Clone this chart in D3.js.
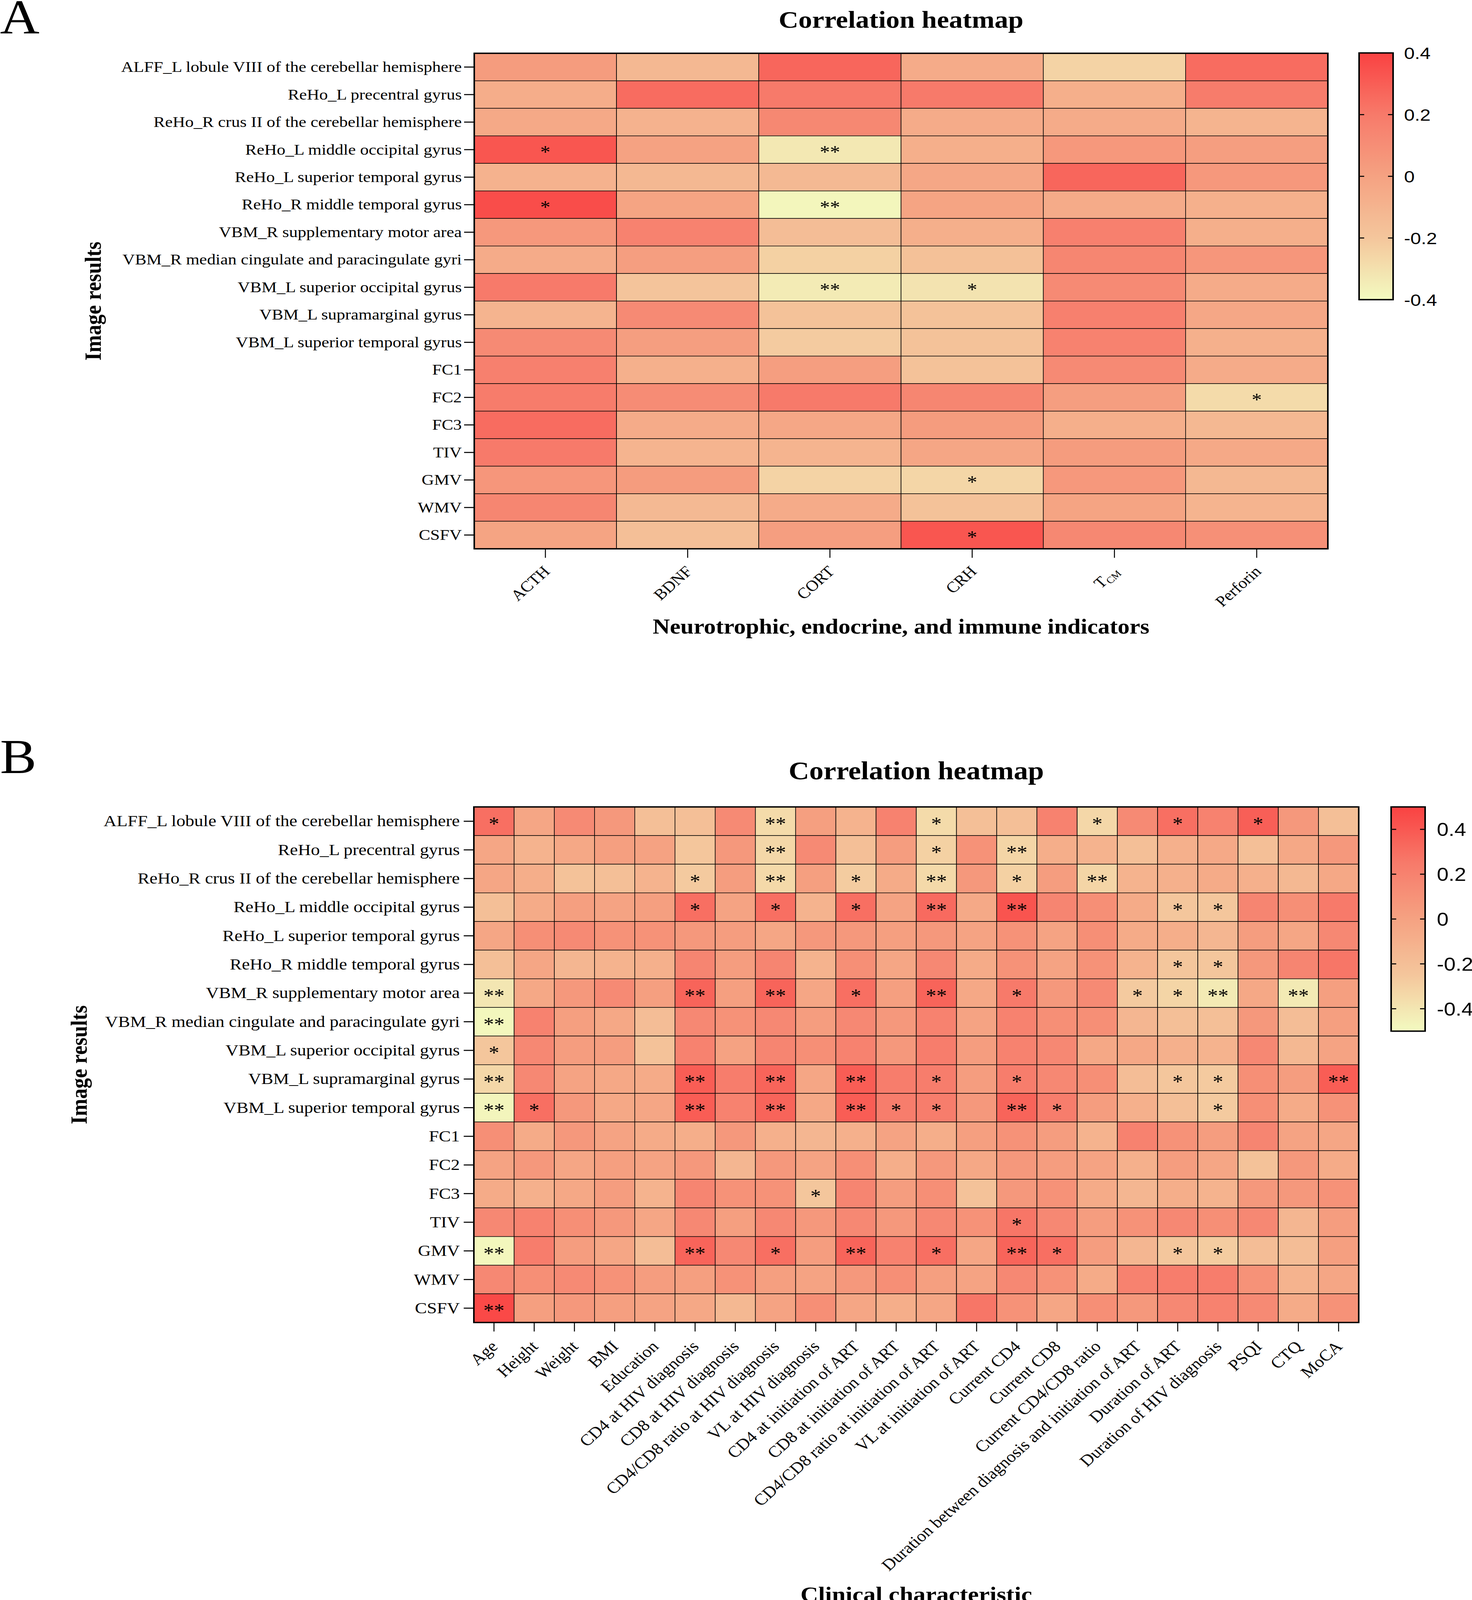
<!DOCTYPE html>
<html><head><meta charset="utf-8">
<script src="https://cdn.jsdelivr.net/npm/d3@7"></script>
<style>html,body{margin:0;padding:0;background:#fff;overflow:hidden}</style>
</head><body>
<script>
// ---------------- DATA ----------------
const imageRows = [
  "ALFF_L lobule VIII of the cerebellar hemisphere",
  "ReHo_L precentral gyrus",
  "ReHo_R crus II of the cerebellar hemisphere",
  "ReHo_L middle occipital gyrus",
  "ReHo_L superior temporal gyrus",
  "ReHo_R middle temporal gyrus",
  "VBM_R supplementary motor area",
  "VBM_R median cingulate and paracingulate gyri",
  "VBM_L superior occipital gyrus",
  "VBM_L supramarginal gyrus",
  "VBM_L superior temporal gyrus",
  "FC1","FC2","FC3","TIV","GMV","WMV","CSFV"
];
const colsA = ["ACTH","BDNF","CORT","CRH","TCM","Perforin"];
const valuesA = [
  [0.03,-0.12,0.27,-0.05,-0.25,0.25],
  [-0.06,0.25,0.20,0.20,-0.07,0.19],
  [-0.04,-0.09,0.13,-0.05,-0.05,-0.10],
  [0.33,0.00,-0.33,-0.07,0.05,0.02],
  [-0.09,-0.12,-0.13,-0.03,0.27,0.05],
  [0.36,-0.01,-0.38,-0.01,-0.05,-0.08],
  [0.05,0.16,-0.15,-0.07,0.17,-0.07],
  [-0.05,0.02,-0.24,-0.17,0.14,0.06],
  [0.20,-0.19,-0.34,-0.31,0.12,-0.05],
  [-0.10,0.12,-0.18,-0.18,0.17,-0.03],
  [0.12,0.02,-0.22,-0.18,0.16,-0.08],
  [0.17,-0.08,0.02,-0.18,0.12,-0.05],
  [0.19,0.11,0.20,0.14,0.02,-0.28],
  [0.25,-0.05,-0.03,0.03,-0.07,-0.12],
  [0.20,-0.10,-0.10,-0.02,0.03,-0.04],
  [0.06,0.03,-0.25,-0.26,0.05,-0.12],
  [0.14,-0.13,-0.05,-0.18,-0.01,-0.10],
  [-0.01,-0.16,0.02,0.33,0.13,0.09]
];
// number of asterisks per cell (one digit per column)
const sigA = ["000000","000000","000000","102000","000000","102000","000000","000000","002100",
  "000000","000000","000000","000001","000000","000000","000100","000000","000100"];
const ticksA = [-0.4,-0.2,0,0.2,0.4];

const colsB = ["Age","Height","Weight","BMI","Education","CD4 at HIV diagnosis","CD8 at HIV diagnosis",
  "CD4/CD8 ratio at HIV diagnosis","VL at HIV diagnosis","CD4 at initiation of ART","CD8 at initiation of ART",
  "CD4/CD8 ratio at initiation of ART","VL at initiation of ART","Current CD4","Current CD8","Current CD4/CD8 ratio",
  "Duration between diagnosis and initiation of ART","Duration of ART","Duration of HIV diagnosis","PSQI","CTQ","MoCA"];
const valuesB = [
  [0.30,-0.03,0.15,0.06,-0.20,-0.20,0.15,-0.35,0.02,-0.12,0.20,-0.35,-0.20,-0.20,0.20,-0.33,0.15,0.30,0.20,0.37,0.06,-0.20],
  [-0.03,-0.12,-0.04,0.02,0.00,-0.25,0.06,-0.33,0.15,-0.20,0.03,-0.30,0.10,-0.32,-0.08,-0.12,-0.20,-0.10,-0.05,-0.20,-0.04,0.06],
  [-0.03,-0.08,-0.22,-0.20,-0.12,-0.27,0.03,-0.34,0.02,-0.28,-0.06,-0.34,0.06,-0.30,0.03,-0.32,-0.12,-0.10,-0.06,-0.10,-0.15,-0.04],
  [-0.20,-0.06,0.02,-0.01,0.02,0.30,-0.01,0.30,-0.12,0.30,-0.01,0.32,-0.05,0.42,0.18,0.12,-0.06,-0.25,-0.25,0.18,0.12,0.25],
  [-0.03,0.12,0.15,0.10,0.10,0.06,0.03,-0.03,0.06,0.06,0.02,0.06,-0.01,0.10,-0.01,0.12,-0.06,-0.08,-0.14,0.03,-0.03,0.16],
  [-0.20,-0.03,-0.14,-0.12,-0.10,0.18,0.03,0.18,-0.12,0.12,-0.03,0.16,-0.06,0.10,-0.01,0.10,-0.12,-0.25,-0.25,0.06,0.18,0.27],
  [-0.40,-0.04,0.06,0.15,0.02,0.35,0.02,0.35,-0.03,0.30,0.02,0.35,-0.04,0.25,0.06,0.15,-0.27,-0.32,-0.42,-0.04,-0.42,0.02],
  [-0.48,0.20,0.02,-0.04,-0.19,0.16,0.10,0.16,0.03,0.16,0.06,0.20,-0.01,0.20,0.12,0.12,-0.14,-0.20,-0.20,0.06,-0.19,0.02],
  [-0.25,0.16,0.03,0.03,-0.22,0.20,0.00,0.18,0.12,0.20,0.06,0.23,0.03,0.20,0.16,-0.04,-0.04,-0.10,-0.12,0.16,-0.15,-0.01],
  [-0.33,0.16,-0.01,-0.04,-0.06,0.38,0.23,0.35,-0.03,0.38,0.23,0.23,0.03,0.23,0.16,0.12,-0.19,-0.25,-0.27,0.12,0.03,0.38],
  [-0.47,0.30,0.06,-0.04,-0.03,0.38,0.20,0.35,-0.04,0.38,0.23,0.23,0.06,0.35,0.23,0.03,-0.10,-0.20,-0.27,0.12,-0.06,0.10],
  [0.12,-0.06,0.06,-0.01,-0.06,-0.08,0.06,-0.10,-0.14,-0.10,-0.01,-0.08,0.02,0.10,0.03,-0.12,0.20,0.10,0.03,0.18,-0.01,-0.03],
  [-0.01,0.06,-0.03,0.02,-0.01,0.06,-0.14,0.06,-0.01,0.12,-0.08,0.06,-0.04,0.06,0.03,-0.01,-0.10,0.03,-0.03,-0.22,0.06,-0.06],
  [-0.06,-0.10,-0.04,0.03,-0.12,0.18,0.10,0.10,-0.25,0.18,0.03,0.12,-0.22,0.06,0.10,-0.06,-0.14,-0.08,-0.12,0.06,0.06,0.10],
  [0.16,0.20,0.12,0.06,-0.03,0.16,0.02,0.16,0.06,0.16,0.06,0.16,0.10,0.27,0.16,0.03,0.10,0.16,0.12,0.16,-0.14,0.03],
  [-0.48,0.23,0.03,-0.03,-0.19,0.35,0.16,0.30,0.03,0.35,0.20,0.30,-0.03,0.35,0.30,0.03,-0.14,-0.25,-0.28,-0.19,-0.19,0.02],
  [0.16,0.12,0.15,0.10,0.03,0.02,0.10,0.02,-0.01,0.06,0.12,0.02,-0.01,0.16,0.10,-0.06,0.20,0.23,0.23,0.10,-0.12,-0.03],
  [0.47,0.02,0.06,0.02,-0.01,-0.04,-0.15,-0.01,0.12,-0.03,-0.08,-0.03,0.27,0.10,-0.03,0.12,0.06,0.16,0.20,0.15,-0.06,0.10]
];
const sigB = [
  "1000000200010001010100",
  "0000000200010200000000",
  "0000010201020102000000",
  "0000010101020200011000",
  "0000000000000000000000",
  "0000000000000000011000",
  "2000020201020100112020",
  "2000000000000000000000",
  "1000000000000000000000",
  "2000020202010100011002",
  "2100020202110210001000",
  "0000000000000000000000",
  "0000000000000000000000",
  "0000000010000000000000",
  "0000000000000100000000",
  "2000020102010210011000",
  "0000000000000000000000",
  "2000000000000000000000"
];
const ticksB = [-0.4,-0.2,0,0.2,0.4];
const colorStops = ["#F3FBC0","#F4C69C","#F5A282","#F77A6A","#FA4242"];

// ---------------- DRAW ----------------
const W=3768,H=4624;
const VW=window.innerWidth||W, VH=window.innerHeight||H;
const serif="'Liberation Serif','Times New Roman',serif", sans="'Liberation Sans',Arial,sans-serif";
const root=d3.select("body").append("svg").attr("width",VW).attr("height",VH)
  .attr("viewBox",`0 0 ${W} ${H}`).attr("preserveAspectRatio","none").style("display","block");
root.append("rect").attr("width",W).attr("height",H).attr("fill","#fff");
const svg=root.append("g");

function panel(o){
  const x=d3.scaleBand().domain(o.cols).range([o.x0,o.x1]);
  const y=d3.scaleBand().domain(o.rows).range([o.y0,o.y1]);
  const color=d3.scaleLinear().domain([-o.m,-o.m/2,0,o.m/2,o.m]).range(colorStops).clamp(true);
  const cells=o.values.flatMap((row,i)=>row.map((v,j)=>({r:o.rows[i],c:o.cols[j],v,s:+o.sig[i][j]})));
  const g=svg.append("g");
  g.selectAll("rect.cell").data(cells).join("rect").attr("class","cell")
    .attr("x",d=>x(d.c)).attr("y",d=>y(d.r)).attr("width",x.bandwidth()).attr("height",y.bandwidth())
    .attr("fill",d=>color(d.v)).attr("stroke","#000").attr("stroke-width",1.6);
  g.selectAll("text.sig").data(cells.filter(d=>d.s>0)).join("text").attr("class","sig")
    .attr("x",d=>x(d.c)+x.bandwidth()/2).attr("y",d=>y(d.r)+y.bandwidth()/2+o.sfs*0.47)
    .attr("text-anchor","middle").style("font-family",serif).style("font-size",o.sfs+"px")
    .text(d=>"*".repeat(d.s));
  g.append("rect").attr("x",o.x0).attr("y",o.y0).attr("width",o.x1-o.x0).attr("height",o.y1-o.y0)
    .attr("fill","none").attr("stroke","#000").attr("stroke-width",4);

  const ya=svg.append("g").attr("transform",`translate(${o.x0},0)`).call(d3.axisLeft(y).tickSize(26).tickPadding(o.pad));
  ya.select(".domain").remove();
  ya.selectAll("line").attr("stroke-width",3);
  ya.selectAll("text").style("font-family",serif).style("font-size",o.fs+"px").attr("fill","#000");

  const xa=svg.append("g").attr("transform",`translate(0,${o.y1})`).call(d3.axisBottom(x).tickSize(26));
  xa.select(".domain").remove();
  xa.selectAll("line").attr("stroke-width",2.5);
  xa.selectAll("text").attr("y",null).attr("dy",null).attr("text-anchor","end")
    .attr("transform",`translate(${o.lx},${o.ly}) rotate(-45)`)
    .style("font-family",serif).style("font-size",o.fs+"px").attr("fill","#000");
  xa.selectAll("text").filter(d=>d==="TCM").each(function(){
    const t=d3.select(this); t.text(null);
    t.append("tspan").text("T");
    t.append("tspan").attr("dy","0.28em").style("font-size","0.62em").text("CM");
  });

  // titles
  const cx=(o.x0+o.x1)/2;
  svg.append("text").attr("x",cx).attr("y",o.titleY).attr("text-anchor","middle")
    .style("font-family",serif).style("font-weight","bold").style("font-size",o.tfs+"px").text("Correlation heatmap");
  svg.append("text").attr("x",cx).attr("y",o.xtY).attr("text-anchor","middle")
    .style("font-family",serif).style("font-weight","bold").style("font-size",o.xtfs+"px").text(o.xTitle);
  svg.append("text").attr("transform",`translate(${o.ytX},${(o.y0+o.y1)/2}) rotate(-90)`).attr("text-anchor","middle")
    .style("font-family",serif).style("font-weight","bold").style("font-size","60px").text("Image results");
  svg.append("text").attr("x",0).attr("y",o.letterY).style("font-family",serif).style("font-size","140px").text(o.letter);

  // colorbar
  const cb=d3.scaleLinear().domain([-o.m,o.m]).range([o.cb.y1,o.cb.y0]);
  const gid="grad"+o.letter;
  const grad=svg.append("defs").append("linearGradient").attr("id",gid).attr("x1",0).attr("x2",0).attr("y1",1).attr("y2",0);
  d3.range(0,1.0001,0.05).forEach(t=>grad.append("stop").attr("offset",t).attr("stop-color",color(-o.m+2*o.m*t)));
  svg.append("rect").attr("x",o.cb.x0).attr("y",o.cb.y0).attr("width",o.cb.x1-o.cb.x0).attr("height",o.cb.y1-o.cb.y0)
    .attr("fill",`url(#${gid})`).attr("stroke","#000").attr("stroke-width",4);
  const tg=svg.append("g");
  o.ticks.forEach(t=>{
    const yy=cb(t);
    tg.append("line").attr("x1",o.cb.x0).attr("x2",o.cb.x0+13).attr("y1",yy).attr("y2",yy).attr("stroke","#000").attr("stroke-width",3);
    tg.append("line").attr("x1",o.cb.x1-13).attr("x2",o.cb.x1).attr("y1",yy).attr("y2",yy).attr("stroke","#000").attr("stroke-width",3);
    tg.append("text").attr("x",o.cb.lx).attr("y",yy).attr("dy","0.36em").style("font-family",sans)
      .style("font-size",o.cb.fs+"px").text(String(t));
  });
}

panel({letter:"A",letterY:97,rows:imageRows,cols:colsA,values:valuesA,sig:sigA,m:0.4,ticks:ticksA,
  x0:1214,x1:3399,y0:154,y1:1586,fs:44,sfs:52,pad:6,lx:14,ly:68,
  titleY:80,tfs:70,xTitle:"Neurotrophic, endocrine, and immune indicators",xtY:1831,xtfs:61,ytX:258,
  cb:{x0:3479,x1:3566,y0:153,y1:866,lx:3594,fs:49}});
panel({letter:"B",letterY:2234,rows:imageRows,cols:colsB,values:valuesB,sig:sigB,m:0.5,ticks:ticksB,
  x0:1213,x1:3478,y0:2332,y1:3822,fs:46,sfs:54,pad:10,lx:12,ly:72,
  titleY:2252,tfs:73,xTitle:"Clinical characteristic",xtY:4628,xtfs:63,ytX:222,
  cb:{x0:3561,x1:3648,y0:2332,y1:2980,lx:3678,fs:54}});
</script>
</body></html>
